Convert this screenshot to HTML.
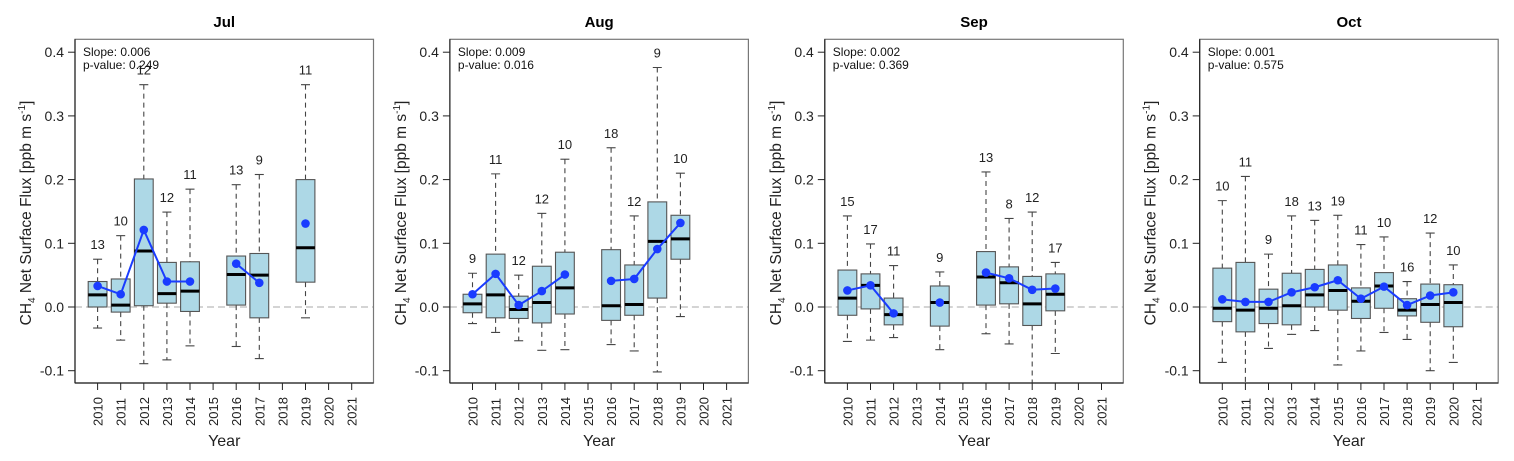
<!DOCTYPE html>
<html><head><meta charset="utf-8">
<style>
body{margin:0;background:#fff;}
svg{display:block;font-family:"Liberation Sans",Arial,sans-serif;}
</style></head>
<body>
<svg id="chart" width="1514" height="461" xmlns="http://www.w3.org/2000/svg"></svg>
<script>
const years = [2010,2011,2012,2013,2014,2015,2016,2017,2018,2019,2020,2021];
const months = ["Jul","Aug","Sep","Oct"];
const slopes = ["0.006","0.009","0.002","0.001"];
const pvalues = ["0.249","0.016","0.369","0.575"];
const yTicks = [-0.1,0,0.1,0.2,0.3,0.4];
const yTickLabels = ["-0.1","0.0","0.1","0.2","0.3","0.4"];
// per month: [year, lo, q1, median, q3, hi, mean, n]
const julStats = [
 [2010,-0.033,0.000,0.019,0.040,0.075,0.033,13],
 [2011,-0.052,-0.008,0.003,0.044,0.112,0.020,10],
 [2012,-0.089,0.002,0.088,0.201,0.349,0.121,12],
 [2013,-0.083,0.006,0.021,0.070,0.149,0.040,12],
 [2014,-0.061,-0.007,0.025,0.071,0.185,0.040,11],
 [2016,-0.062,0.003,0.051,0.080,0.192,0.068,13],
 [2017,-0.081,-0.017,0.050,0.084,0.208,0.038,9],
 [2019,-0.017,0.039,0.093,0.200,0.349,0.131,11]];
const augStats = [
 [2010,-0.026,-0.009,0.005,0.020,0.053,0.020,9],
 [2011,-0.040,-0.017,0.019,0.083,0.209,0.052,11],
 [2012,-0.053,-0.018,-0.004,0.017,0.050,0.003,12],
 [2013,-0.068,-0.025,0.007,0.064,0.147,0.025,12],
 [2014,-0.067,-0.011,0.030,0.086,0.232,0.051,10],
 [2016,-0.059,-0.021,0.002,0.090,0.250,0.041,18],
 [2017,-0.069,-0.013,0.004,0.066,0.143,0.044,12],
 [2018,-0.102,0.014,0.103,0.165,0.376,0.091,9],
 [2019,-0.015,0.075,0.107,0.144,0.210,0.132,10]];
const sepStats = [
 [2010,-0.054,-0.013,0.014,0.058,0.143,0.026,15],
 [2011,-0.052,-0.003,0.034,0.052,0.099,0.034,17],
 [2012,-0.048,-0.028,-0.012,0.014,0.065,-0.010,11],
 [2014,-0.067,-0.030,0.007,0.033,0.055,0.007,9],
 [2016,-0.042,0.003,0.047,0.087,0.212,0.054,13],
 [2017,-0.058,0.005,0.038,0.063,0.139,0.045,8],
 [2018,-0.130,-0.029,0.005,0.048,0.149,0.027,12],
 [2019,-0.073,-0.006,0.020,0.052,0.070,0.029,17]];
const octStats = [
 [2010,-0.087,-0.023,-0.002,0.061,0.167,0.012,10],
 [2011,-0.130,-0.039,-0.005,0.070,0.205,0.008,11],
 [2012,-0.065,-0.026,-0.002,0.028,0.083,0.008,9],
 [2013,-0.043,-0.028,0.002,0.053,0.143,0.023,18],
 [2014,-0.037,0.000,0.019,0.059,0.136,0.031,13],
 [2015,-0.091,-0.005,0.026,0.066,0.144,0.042,19],
 [2016,-0.069,-0.018,0.009,0.030,0.098,0.013,11],
 [2017,-0.040,-0.002,0.033,0.054,0.110,0.032,10],
 [2018,-0.051,-0.014,-0.005,0.013,0.040,0.003,16],
 [2019,-0.100,-0.024,0.004,0.036,0.116,0.018,12],
 [2020,-0.087,-0.031,0.007,0.035,0.066,0.023,10]];
const allStats = [julStats, augStats, sepStats, octStats];

const NS="http://www.w3.org/2000/svg";
const svg=document.getElementById('chart');
function mk(tag, attrs, parent, text){
  const e=document.createElementNS(NS,tag);
  for(const k in attrs) e.setAttribute(k, attrs[k]);
  if(text!==undefined) e.textContent=text;
  (parent||svg).appendChild(e); return e;
}
const boxTop=39.3, boxBot=383, boxW=298.5;
function yScale(v){ return 307 - v*637; }
function xScale(p, yr){ return 75 + p*374.9 + 22.6 + (yr-2010)*23.1; }

months.forEach((m,p)=>{
  const L=75+p*374.9;
  const g=mk('g',{}); 
  
  
  const clipId='clip'+p;
  const cp=mk('clipPath',{id:clipId},g);
  mk('rect',{x:L,y:boxTop,width:boxW,height:boxBot-boxTop},cp);
  const t=mk('text',{x:L+boxW/2,y:27,'text-anchor':'middle','font-size':15,'font-weight':'bold'},g,m);
   
  // zero line
  const zl=mk('line',{x1:L,x2:L+boxW,y1:yScale(0),y2:yScale(0),stroke:'#bbb','stroke-width':1.3,'stroke-dasharray':'7 4'},g);
   
  const data=allStats[p];
  const cg=mk('g',{'clip-path':'url(#'+clipId+')'},g);
  data.forEach(d=>{
    const [yr,lo,q1,md,q3,hi,mean,n]=d;
    const x=xScale(p,yr), hw=9.4, cw=4.5;
    const bg=mk('g',{},cg);
     
    mk('line',{x1:x,x2:x,y1:yScale(hi),y2:yScale(q3),stroke:'#444','stroke-dasharray':'5 4','stroke-width':1.1},bg);
    mk('line',{x1:x,x2:x,y1:yScale(q1),y2:yScale(lo),stroke:'#444','stroke-dasharray':'5 4','stroke-width':1.1},bg);
    mk('line',{x1:x-cw,x2:x+cw,y1:yScale(hi),y2:yScale(hi),stroke:'#444','stroke-width':1.1},bg);
    mk('line',{x1:x-cw,x2:x+cw,y1:yScale(lo),y2:yScale(lo),stroke:'#444','stroke-width':1.1},bg);
    mk('rect',{x:x-hw,y:yScale(q3),width:2*hw,height:yScale(q1)-yScale(q3),fill:'#add8e6',stroke:'#555','stroke-width':1.1},bg);
    mk('line',{x1:x-hw,x2:x+hw,y1:yScale(md),y2:yScale(md),stroke:'#000','stroke-width':3},bg);
    const nl=mk('text',{x:x,y:yScale(hi)-10,'text-anchor':'middle','font-size':13,fill:'#222'},g,String(n));
     
  });
  // mean lines between consecutive years
  for(let i=1;i<data.length;i++){
    if(data[i][0]-data[i-1][0]===1){
      const ml=mk('line',{x1:xScale(p,data[i-1][0]),y1:yScale(data[i-1][6]),x2:xScale(p,data[i][0]),y2:yScale(data[i][6]),stroke:'#1a3cff','stroke-width':2},g);
       
    }
  }
  data.forEach(d=>{
    const c=mk('circle',{cx:xScale(p,d[0]),cy:yScale(d[6]),r:4.3,fill:'#1a3cff'},g);
     
  });
  // frame
  const fr=mk('rect',{x:L,y:boxTop,width:boxW,height:boxBot-boxTop,fill:'none',stroke:'#777','stroke-width':1.2},g);
   
  mk('line',{x1:L,x2:L,y1:boxTop,y2:boxBot,stroke:'#222','stroke-width':1.2},g);
  mk('line',{x1:L,x2:L+boxW,y1:boxBot,y2:boxBot,stroke:'#222','stroke-width':1.2},g);
  // y ticks
  yTicks.forEach((v,i)=>{
    const y=yScale(v);
    mk('line',{x1:L-7,x2:L,y1:y,y2:y,stroke:'#222'},g);
    const tl=mk('text',{x:L-11,y:y+5,'text-anchor':'end','font-size':14,fill:'#222'},g,yTickLabels[i]);
     
  });
  // x ticks
  years.forEach(yr=>{
    const x=xScale(p,yr);
    mk('line',{x1:x,x2:x,y1:boxBot,y2:boxBot+7,stroke:'#222'},g);
    const tl=mk('text',{x:0,y:0,transform:`translate(${x+5},${426}) rotate(-90)`,'text-anchor':'start','font-size':13,fill:'#222'},g,String(yr));
     
  });
  const xt=mk('text',{x:L+boxW/2,y:446,'text-anchor':'middle','font-size':16,fill:'#222'},g,'Year');
   
  const yt=mk('text',{x:0,y:0,transform:`translate(${L-44},${213}) rotate(-90)`,'text-anchor':'middle','font-size':15.5,fill:'#222'},g);
   
  mk('tspan',{},yt,'CH');
  mk('tspan',{'font-size':10,dy:4},yt,'4');
  mk('tspan',{dy:-4},yt,' Net Surface Flux [ppb m s');
  mk('tspan',{'font-size':10,dy:-6},yt,'-1');
  mk('tspan',{dy:6},yt,']');
  const s1=mk('text',{x:L+8,y:56,'font-size':12,fill:'#111'},g,'Slope: '+slopes[p]);
   
  const s2=mk('text',{x:L+8,y:69,'font-size':12,fill:'#111'},g,'p-value: '+pvalues[p]);
   
});
</script>
</body></html>
